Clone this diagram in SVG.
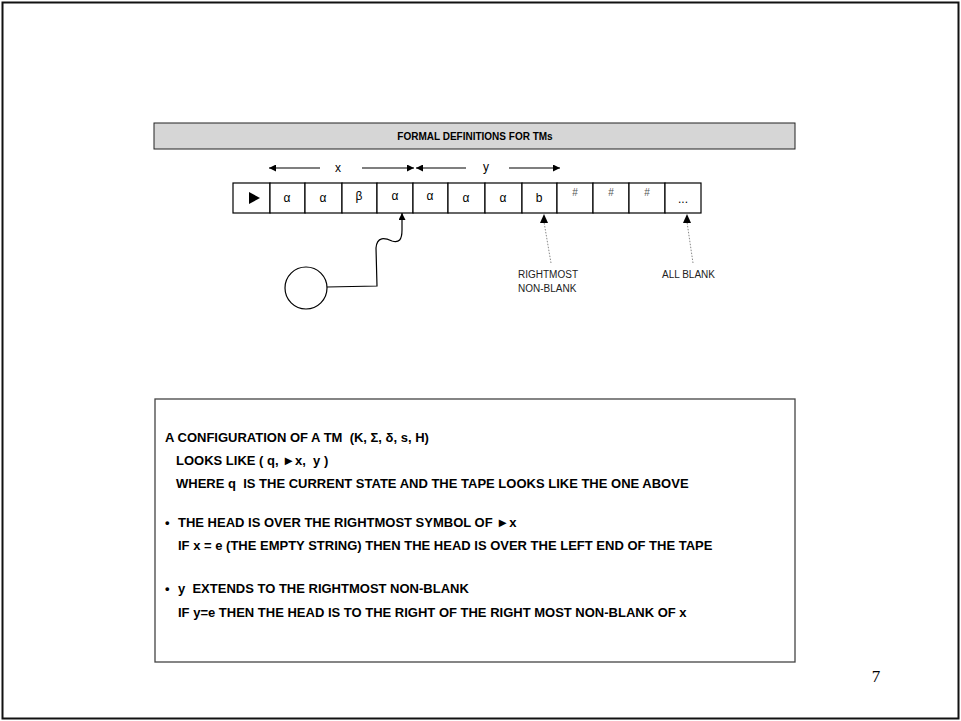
<svg xmlns="http://www.w3.org/2000/svg" width="961" height="721" viewBox="0 0 961 721">
<defs>
<style>
.cell{fill:#fff;stroke:#000;stroke-width:1.2}
.sym{font-family:"Liberation Sans",Arial,sans-serif;font-size:12px;text-anchor:middle;fill:#000}
.hash{font-family:"Liberation Sans",Arial,sans-serif;font-size:10px;text-anchor:middle;fill:#555}
.lbl{font-family:"Liberation Sans",Arial,sans-serif;font-size:10px;fill:#222}
.body{font-family:"Liberation Sans",Arial,sans-serif;font-size:13px;font-weight:bold;fill:#000;white-space:pre}
.ln{stroke:#000;stroke-width:1.2;fill:none}
.dot{stroke:#888;stroke-width:1;stroke-dasharray:1.5 1.5;fill:none}
</style>
<marker id="ah" viewBox="0 0 10 10" refX="10" refY="5" markerWidth="8" markerHeight="7" markerUnits="userSpaceOnUse" orient="auto">
<path d="M0,0 L10,5 L0,10 z" fill="#000"/>
</marker>
</defs>
<rect x="0" y="0" width="961" height="721" fill="#fff"/>
<rect x="2.5" y="2.5" width="956" height="716" fill="none" stroke="#111" stroke-width="2"/>

<g id="title">
<rect x="154" y="123" width="641" height="26" fill="#d6d6d6" stroke="#222" stroke-width="1"/>
<text x="475" y="140" font-family="Liberation Sans,Arial,sans-serif" font-size="10" font-weight="bold" text-anchor="middle">FORMAL DEFINITIONS FOR TMs</text>
</g>

<g id="tape">
<rect class="cell" x="233" y="183" width="37" height="30"/>
<rect class="cell" x="270" y="183" width="35" height="30"/>
<rect class="cell" x="305" y="183" width="37" height="30"/>
<rect class="cell" x="342" y="183" width="35" height="30"/>
<rect class="cell" x="377" y="183" width="36" height="30"/>
<rect class="cell" x="413" y="183" width="35" height="30"/>
<rect class="cell" x="448" y="183" width="37" height="30"/>
<rect class="cell" x="485" y="183" width="37" height="30"/>
<rect class="cell" x="522" y="183" width="35" height="30"/>
<rect class="cell" x="557" y="183" width="36" height="30"/>
<rect class="cell" x="593" y="183" width="36" height="30"/>
<rect class="cell" x="629" y="183" width="36" height="30"/>
<rect class="cell" x="665" y="183" width="36" height="30"/>
<path d="M249,192 L260,198 L249,204 z" fill="#000"/>
<text class="sym" x="287" y="202">α</text>
<text class="sym" x="323" y="202">α</text>
<text class="sym" x="359" y="200">β</text>
<text class="sym" x="395" y="200">α</text>
<text class="sym" x="430" y="200">α</text>
<text class="sym" x="466" y="202">α</text>
<text class="sym" x="503" y="202">α</text>
<text class="sym" x="539" y="202">b</text>
<text class="hash" x="575" y="196">#</text>
<text class="hash" x="611" y="196">#</text>
<text class="hash" x="647" y="196">#</text>
<text class="sym" x="683" y="203">...</text>
</g>

<g id="x-label">
<text class="sym" x="338" y="172">x</text>
</g>
<g id="y-label">
<text class="sym" x="486" y="171">y</text>
</g>

<g id="head">
<circle cx="306" cy="288" r="21" fill="#fff" stroke="#000" stroke-width="1.2"/>
</g>

<g id="lbl-rightmost">
<text class="lbl" x="518" y="278">RIGHTMOST</text>
<text class="lbl" x="518" y="292">NON-BLANK</text>
</g>
<g id="lbl-allblank">
<text class="lbl" x="662" y="278">ALL BLANK</text>
</g>

<g id="connectors">
<line class="ln" x1="320" y1="168" x2="269" y2="168" marker-end="url(#ah)"/>
<line class="ln" x1="362" y1="168" x2="414" y2="168" marker-end="url(#ah)"/>
<line class="ln" x1="466" y1="168" x2="416" y2="168" marker-end="url(#ah)" stroke="#444"/>
<line class="ln" x1="509" y1="168" x2="560" y2="168" marker-end="url(#ah)"/>
<path class="ln" d="M327,287 L377,286 L376,248 C377,236 385,238 392,241 C399,243 402,240 402,230 L402,213" marker-end="url(#ah)"/>
<path class="dot" d="M551,263 L544,222"/>
<path d="M544,214 L540,223 L548,223 z" fill="#000"/>
<path class="dot" d="M693,263 L687,222"/>
<path d="M687,214 L683,223 L691,223 z" fill="#000"/>
</g>

<g id="config-box">
<rect x="155" y="399" width="640" height="263" fill="#fff" stroke="#444" stroke-width="1.3"/>
<text class="body" x="165" y="442" xml:space="preserve">A CONFIGURATION OF A TM  (K, Σ, δ, s, H)</text>
<text class="body" x="176" y="465" xml:space="preserve">LOOKS LIKE ( q, ►x,  y )</text>
<text class="body" x="176" y="488" xml:space="preserve">WHERE q  IS THE CURRENT STATE AND THE TAPE LOOKS LIKE THE ONE ABOVE</text>
<text class="body" x="165" y="527">•</text>
<text class="body" x="178" y="527">THE HEAD IS OVER THE RIGHTMOST SYMBOL OF ►x</text>
<text class="body" x="178" y="550">IF x = e (THE EMPTY STRING) THEN THE HEAD IS OVER THE LEFT END OF THE TAPE</text>
<text class="body" x="165" y="593">•</text>
<text class="body" x="178" y="593" xml:space="preserve">y  EXTENDS TO THE RIGHTMOST NON-BLANK</text>
<text class="body" x="178" y="617">IF y=e THEN THE HEAD IS TO THE RIGHT OF THE RIGHT MOST NON-BLANK OF x</text>
</g>

<g id="page-number">
<text x="876" y="682" font-family="Liberation Serif,Times New Roman,serif" font-size="17" text-anchor="middle">7</text>
</g>
</svg>
